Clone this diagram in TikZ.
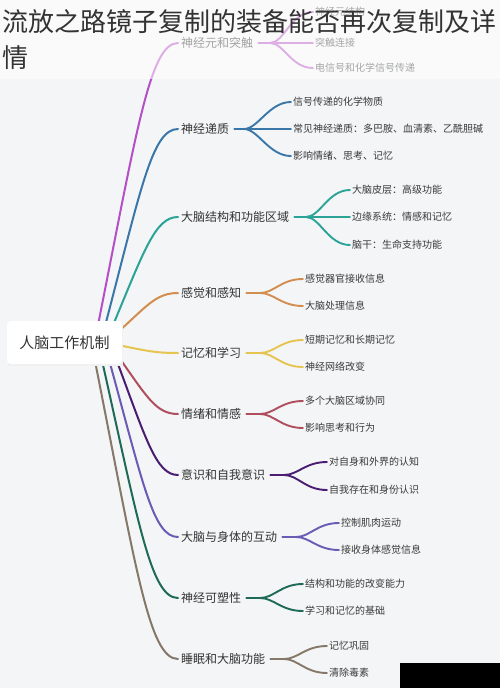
\documentclass[tikz,border=0pt]{standalone}
\usepackage{fontspec}
\setmainfont{Noto Sans CJK SC}
\definecolor{bgc}{HTML}{F4F5F7}
\definecolor{txt}{HTML}{333333}
\definecolor{txtb}{HTML}{3A3A3A}
\definecolor{cA}{HTML}{B44FC6}
\definecolor{cB}{HTML}{3A77A8}
\definecolor{cC}{HTML}{2BA396}
\definecolor{cD}{HTML}{D28D4F}
\definecolor{cE}{HTML}{E5C550}
\definecolor{cF}{HTML}{AE4E5E}
\definecolor{cG}{HTML}{4A1D73}
\definecolor{cH}{HTML}{6A5BB4}
\definecolor{cI}{HTML}{1F6A57}
\definecolor{cJ}{HTML}{857868}
\begin{document}
\begin{tikzpicture}[x=1pt,y=-1pt,
  rootbox/.style={fill=white, rounded corners=4pt, minimum width=115pt, minimum height=43pt, inner sep=0pt, font=\fontsize{15}{18}\selectfont, text=txt},
  topic/.style={anchor=west, inner sep=3pt, font=\fontsize{12}{14}\selectfont, text=txt},
  leaf/.style={anchor=west, inner sep=2pt, font=\fontsize{10}{12}\selectfont, text=txtb},
  br/.style={line width=2pt, line cap=round},
  sub/.style={line width=1.9pt, line cap=round},
  titletext/.style={anchor=base west, inner sep=0pt, font=\fontsize{26}{36}\selectfont, text=txt}]
\useasboundingbox (0,0) rectangle (500,688);
\fill[bgc] (0,0) rectangle (500,688);

% topics
\node[topic] (b1) at (178,43) {神经元和突触};
\node[topic] (b2) at (178,129) {神经递质};
\node[topic] (b3) at (178,217) {大脑结构和功能区域};
\node[topic] (b4) at (178,293) {感觉和感知};
\node[topic] (b5) at (178,353) {记忆和学习};
\node[topic] (b6) at (178,414) {情绪和情感};
\node[topic] (b7) at (178,475) {意识和自我意识};
\node[topic] (b8) at (178,537) {大脑与身体的互动};
\node[topic] (b9) at (178,598) {神经可塑性};
\node[topic] (b10) at (178,659) {睡眠和大脑功能};

% leaves
\node[leaf] (l11) at (313,12) {神经元结构};
\node[leaf] (l12) at (313,43) {突触连接};
\node[leaf] (l13) at (313,68) {电信号和化学信号传递};
\node[leaf] (l21) at (291,102) {信号传递的化学物质};
\node[leaf] (l22) at (291,129) {常见神经递质：多巴胺、血清素、乙酰胆碱};
\node[leaf] (l23) at (291,156) {影响情绪、思考、记忆};
\node[leaf] (l31) at (350,190) {大脑皮层：高级功能};
\node[leaf] (l32) at (350,217) {边缘系统：情感和记忆};
\node[leaf] (l33) at (350,245) {脑干：生命支持功能};
\node[leaf] (l41) at (303,279) {感觉器官接收信息};
\node[leaf] (l42) at (303,306) {大脑处理信息};
\node[leaf] (l51) at (303,340) {短期记忆和长期记忆};
\node[leaf] (l52) at (303,367) {神经网络改变};
\node[leaf] (l61) at (303,401) {多个大脑区域协同};
\node[leaf] (l62) at (303,428) {影响思考和行为};
\node[leaf] (l71) at (327,462) {对自身和外界的认知};
\node[leaf] (l72) at (327,490) {自我存在和身份认识};
\node[leaf] (l81) at (339,523) {控制肌肉运动};
\node[leaf] (l82) at (339,550) {接收身体感觉信息};
\node[leaf] (l91) at (303,584) {结构和功能的改变能力};
\node[leaf] (l92) at (303,611) {学习和记忆的基础};
\node[leaf] (l101) at (327,646) {记忆巩固};
\node[leaf] (l102) at (327,673) {清除毒素};

% forks
\coordinate (f1) at (270,43);
\coordinate (f2) at (244,129);
\coordinate (f3) at (306,217);
\coordinate (f4) at (260,293);
\coordinate (f5) at (260,353);
\coordinate (f6) at (260,414);
\coordinate (f7) at (284,475);
\coordinate (f8) at (296,537);
\coordinate (f9) at (260,598);
\coordinate (f10) at (284,659);

% root start points
\coordinate (s1) at (97,330);
\coordinate (s2) at (104,330);
\coordinate (s3) at (111,330);
\coordinate (s4) at (118,332);
\coordinate (s5) at (118,345);
\coordinate (s6) at (118,356);
\coordinate (s7) at (115,356);
\coordinate (s8) at (108,356);
\coordinate (s9) at (101,356);
\coordinate (s10) at (94,356);

% root branches
\draw[br,cA] (s1) .. controls +(40,-201) and +(-28,0) .. (b1.west);
\draw[br,cB] (s2) .. controls +(37,-141) and +(-26,0) .. (b2.west);
\draw[br,cC] (s3) .. controls +(33,-79) and +(-23,0) .. (b3.west);
\draw[br,cD] (s4) .. controls +(29,-26) and +(-22,0) .. (b4.west);
\draw[br,cE] (s5) .. controls +(29,6) and +(-22,0) .. (b5.west);
\draw[br,cF] (s6) .. controls +(29,41) and +(-22,0) .. (b6.west);
\draw[br,cG] (s7) .. controls +(31,83) and +(-22,0) .. (b7.west);
\draw[br,cH] (s8) .. controls +(35,127) and +(-25,0) .. (b8.west);
\draw[br,cI] (s9) .. controls +(38,169) and +(-27,0) .. (b9.west);
\draw[br,cJ] (s10) .. controls +(42,212) and +(-29,0) .. (b10.west);

% sub branches
\draw[sub,cA,shorten <=2pt] (b1.east) -- (f1);
\foreach \l in {l11,l12,l13} \draw[sub,cA] (f1) .. controls +(14,0) and +(-22,0) .. (\l.west);
\draw[sub,cB,shorten <=2pt] (b2.east) -- (f2);
\foreach \l in {l21,l22,l23} \draw[sub,cB] (f2) .. controls +(14,0) and +(-22,0) .. (\l.west);
\draw[sub,cC,shorten <=2pt] (b3.east) -- (f3);
\foreach \l in {l31,l32,l33} \draw[sub,cC] (f3) .. controls +(14,0) and +(-22,0) .. (\l.west);
\draw[sub,cD,shorten <=2pt] (b4.east) -- (f4);
\foreach \l in {l41,l42} \draw[sub,cD] (f4) .. controls +(14,0) and +(-22,0) .. (\l.west);
\draw[sub,cE,shorten <=2pt] (b5.east) -- (f5);
\foreach \l in {l51,l52} \draw[sub,cE] (f5) .. controls +(14,0) and +(-22,0) .. (\l.west);
\draw[sub,cF,shorten <=2pt] (b6.east) -- (f6);
\foreach \l in {l61,l62} \draw[sub,cF] (f6) .. controls +(14,0) and +(-22,0) .. (\l.west);
\draw[sub,cG,shorten <=2pt] (b7.east) -- (f7);
\foreach \l in {l71,l72} \draw[sub,cG] (f7) .. controls +(14,0) and +(-22,0) .. (\l.west);
\draw[sub,cH,shorten <=2pt] (b8.east) -- (f8);
\foreach \l in {l81,l82} \draw[sub,cH] (f8) .. controls +(14,0) and +(-22,0) .. (\l.west);
\draw[sub,cI,shorten <=2pt] (b9.east) -- (f9);
\foreach \l in {l91,l92} \draw[sub,cI] (f9) .. controls +(14,0) and +(-22,0) .. (\l.west);
\draw[sub,cJ,shorten <=2pt] (b10.east) -- (f10);
\foreach \l in {l101,l102} \draw[sub,cJ] (f10) .. controls +(14,0) and +(-22,0) .. (\l.west);

% root
\fill[black!6] (8,323) rectangle (123,366);
\node[rootbox] (root) at (64.5,342.5) {人脑工作机制};

% top white veil and title
\fill[white, opacity=0.55] (0,0) rectangle (500,79);
\node[titletext] (t1) at (2,31.5) {流放之路镜子复制的装备能否再次复制及详};
\node[titletext] (t2) at (2,67.5) {情};

% black patch bottom right
\fill[black] (400,663) rectangle (500,688);
\end{tikzpicture}
\end{document}
